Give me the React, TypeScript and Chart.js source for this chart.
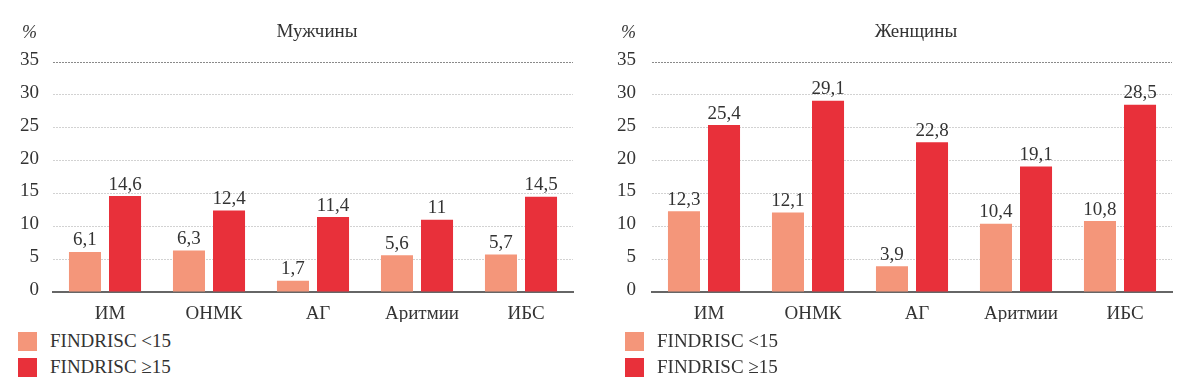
import React, { useEffect, useRef } from "react";
import { Chart, registerables } from "chart.js";

Chart.register(...registerables);

const categories = ["ИМ", "ОНМК", "АГ", "Аритмии", "ИБС"];
const menLow = [6.1, 6.3, 1.7, 5.6, 5.7];
const menHigh = [14.6, 12.4, 11.4, 11, 14.5];
const womenLow = [12.3, 12.1, 3.9, 10.4, 10.8];
const womenHigh = [25.4, 29.1, 22.8, 19.1, 28.5];
const seriesLabels = ["FINDRISC <15", "FINDRISC ≥15"];
const yMax = 35;
const yStep = 5;

const LOW_COLOR = "#F4967A";
const HIGH_COLOR = "#E8303A";
const TEXT = "#333333";
const FONT = "'Liberation Serif', 'DejaVu Serif', serif";

type PanelProps = {
  title: string;
  low: number[];
  high: number[];
  left: number;
  legendLeft: number;
  tickPad: number;
};

const Panel = ({ title, low, high, left, legendLeft, tickPad }: PanelProps) => {
  const ref = useRef<HTMLCanvasElement | null>(null);
  useEffect(() => {
    if (!ref.current) return;
    let chart: Chart | null = null;
    let cancelled = false;
    const labelPlugin = {
      id: "valueLabels",
      afterDatasetsDraw(c: any) {
        const ctx = c.ctx;
        ctx.save();
        ctx.font = `19px ${FONT}`;
        ctx.fillStyle = TEXT;
        ctx.textAlign = "center";
        ctx.textBaseline = "bottom";
        c.data.datasets.forEach((ds: any, di: number) => {
          const meta = c.getDatasetMeta(di);
          meta.data.forEach((bar: any, i: number) => {
            const v = ds.data[i];
            ctx.fillText(String(v).replace(".", ","), bar.x, bar.y - 2);
          });
        });
        ctx.restore();
      },
      afterDraw(c: any) {
        const ctx = c.ctx;
        const a = c.chartArea;
        ctx.save();
        ctx.fillStyle = TEXT;
        ctx.textBaseline = "middle";
        ctx.textAlign = "center";
        ctx.font = `19px ${FONT}`;
        ctx.fillText(title, (a.left + a.right) / 2 + 4, 32);
        ctx.font = `italic 18px ${FONT}`;
        ctx.textAlign = "left";
        ctx.fillText("%", a.left - 31, 33);
        ctx.restore();
      },
    };
    const build = () => {
      if (cancelled || !ref.current) return;
      chart = new Chart(ref.current, {
        type: "bar",
        data: {
          labels: categories,
          datasets: [
            {
              label: seriesLabels[0],
              data: low,
              backgroundColor: LOW_COLOR,
              categoryPercentage: 0.77,
              barPercentage: 0.8,
            },
            {
              label: seriesLabels[1],
              data: high,
              backgroundColor: HIGH_COLOR,
              categoryPercentage: 0.77,
              barPercentage: 0.8,
            },
          ],
        },
        options: {
          animation: false,
          responsive: false,
          maintainAspectRatio: false,
          layout: { padding: { top: 62, right: 27, bottom: 8, left: 0 } },
          plugins: {
            legend: { display: false },
            tooltip: { enabled: false },
            title: { display: false },
          },
          scales: {
            x: {
              grid: { display: false },
              border: { display: true, color: "#666666", width: 2 },
              ticks: {
                color: TEXT,
                font: { family: FONT, size: 19 },
                padding: 3,
                labelOffset: 5,
              },
              afterFit: (s: any) => {
                s.height = 30;
              },
            },
            y: {
              min: 0,
              max: yMax,
              ticks: {
                stepSize: yStep,
                color: TEXT,
                font: { family: FONT, size: 19 },
                padding: tickPad,
                labelOffset: -2,
              },
              grid: {
                drawTicks: false,
                lineWidth: 1,
                color: (c: any) =>
                  c.tick && c.tick.value === yMax
                    ? "#8a8a8a"
                    : c.tick && c.tick.value === 0
                    ? "rgba(0,0,0,0)"
                    : "#d2d2d2",
              },
              border: { display: false, dash: [2, 1] },
              afterFit: (s: any) => {
                s.width = 53;
              },
            },
          },
        },
        plugins: [labelPlugin],
      });
    };
    const fonts: any = (document as any).fonts;
    if (fonts && fonts.load) {
      Promise.all([
        fonts.load(`19px "Liberation Serif"`),
        fonts.load(`italic 18px "Liberation Serif"`),
      ])
        .catch(() => null)
        .then(build);
    } else {
      build();
    }
    return () => {
      cancelled = true;
      if (chart) chart.destroy();
    };
  }, []);

  const legendItem = (i: number, top: number) => (
    <div key={i}>
      <div
        style={{
          position: "absolute",
          left: legendLeft - left,
          top,
          width: 19,
          height: 19,
          background: i === 0 ? LOW_COLOR : HIGH_COLOR,
        }}
      />
      <div
        style={{
          position: "absolute",
          left: legendLeft - left + 32,
          top: top - 2,
          height: 22,
          lineHeight: "22px",
          fontFamily: FONT,
          fontSize: 19,
          color: TEXT,
          whiteSpace: "nowrap",
        }}
      >
        {seriesLabels[i]}
      </div>
    </div>
  );

  return (
    <div style={{ position: "absolute", left, top: 0, width: 600, height: 390 }}>
      <canvas ref={ref} width={600} height={330} style={{ display: "block", width: 600, height: 330 }} />
      {legendItem(0, 332)}
      {legendItem(1, 358)}
    </div>
  );
};

export default function App() {
  return (
    <div
      style={{
        position: "absolute",
        left: 0,
        top: 0,
        width: 1200,
        height: 390,
        background: "#ffffff",
        overflow: "hidden",
      }}
    >
      <Panel title="Мужчины" low={menLow} high={menHigh} left={0} legendLeft={18} tickPad={14} />
      <Panel title="Женщины" low={womenLow} high={womenHigh} left={599} legendLeft={625} tickPad={16} />
    </div>
  );
}
